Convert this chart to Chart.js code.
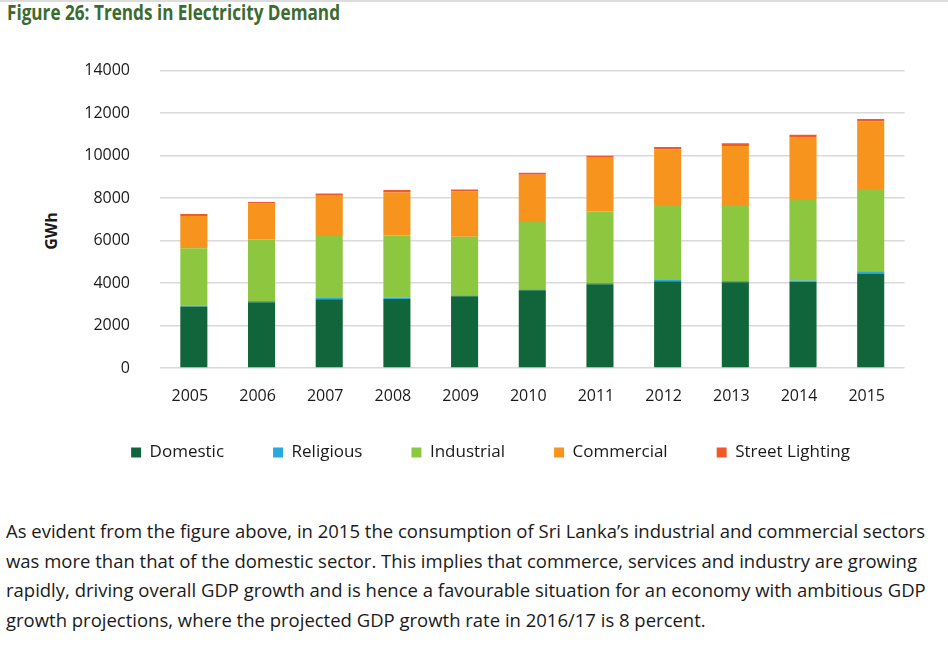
<!DOCTYPE html>
<html>
<head>
<meta charset="utf-8">
<script src="https://cdn.jsdelivr.net/npm/chart.js@4.4.1/dist/chart.umd.min.js"></script>
<style>
  html, body { margin: 0; padding: 0; background: #fff; }
  body { width: 948px; height: 651px; position: relative; overflow: hidden; border-top: 2px solid #dcdcdc; box-sizing: border-box; }
  #title { position: absolute; left: 7px; top: -4px; font-family: 'Open Sans', sans-serif; font-weight: bold; font-size: 21px; color: #3b6b2e; white-space: nowrap; transform-origin: 0 0; display: inline-block; }
  #ytitle { position: absolute; left: 51px; top: 229px; transform: translate(-50%, -50%) rotate(-90deg); font-family: 'Open Sans', sans-serif; font-weight: bold; font-size: 16px; color: #1a1a1a; white-space: nowrap; }
  #wrap { position: absolute; left: 73px; top: 29px; width: 835px; height: 453px; }
  #para { position: absolute; left: 6px; top: 514px; font-family: 'Open Sans', sans-serif; font-size: 18.5px; color: #1a1a1a; transform-origin: 0 0; }
  #para div { white-space: nowrap; height: 29.5px; line-height: 29.5px; }
</style>
</head>
<body>
<div id="title">Figure 26: Trends in Electricity Demand</div>
<div id="ytitle">GWh</div>
<div id="wrap"><canvas id="c"></canvas></div>
<div id="para">
  <div><span id="l1">As evident from the figure above, in 2015 the consumption of Sri Lanka’s industrial and commercial sectors</span></div>
  <div>was more than that of the domestic sector. This implies that commerce, services and industry are growing</div>
  <div>rapidly, driving overall GDP growth and is hence a favourable situation for an economy with ambitious GDP</div>
  <div>growth projections, where the projected GDP growth rate in 2016/17 is 8 percent.</div>
</div>
<script>
const years = ['2005','2006','2007','2008','2009','2010','2011','2012','2013','2014','2015'];
const domestic   = [2890, 3097, 3239, 3253, 3380, 3663, 3946, 4088, 4040, 4055, 4446];
const religious  = [45, 55, 60, 50, 50, 50, 50, 50, 50, 60, 110];
const industrial = [2708, 2897, 2910, 2934, 2746, 3156, 3373, 3533, 3581, 3792, 3869];
const commercial = [1509, 1697, 1900, 2028, 2136, 2230, 2531, 2621, 2781, 2970, 3187];
const streetLighting = [95, 66, 109, 112, 95, 95, 95, 113, 123, 108, 113];
const yTicks = [0, 2000, 4000, 6000, 8000, 10000, 12000, 14000];

// squeeze text horizontally to match the reference widths
(function(){
  const t = document.getElementById('title');
  const tw = t.getBoundingClientRect().width;
  t.style.transform = 'scaleX(' + (333 / tw) + ')';
  const l1 = document.getElementById('l1');
  const w = l1.getBoundingClientRect().width;
  document.getElementById('para').style.transform = 'scaleX(' + (919 / w) + ')';
})();

Chart.defaults.font.family = "'Open Sans', sans-serif";
Chart.defaults.color = '#1a1a1a';

const colors = {
  domestic: '#10663a',
  religious: '#29a9e1',
  industrial: '#8dc63f',
  commercial: '#f7941d',
  street: '#ef5a28'
};

function ds(label, data, color) {
  return { label, data, backgroundColor: color, borderWidth: 0, stack: 's',
           categoryPercentage: 0.8, barPercentage: 0.5 };
}

// move the legend a little closer to the axis labels
const legendShift = {
  id: 'legendShift',
  afterLayout(chart) {
    if (chart.legend) { chart.legend.top -= 13; chart.legend.bottom -= 13; }
  }
};

new Chart(document.getElementById('c'), {
  type: 'bar',
  data: {
    labels: years,
    datasets: [
      ds('Domestic', domestic, colors.domestic),
      ds('Religious', religious, colors.religious),
      ds('Industrial', industrial, colors.industrial),
      ds('Commercial', commercial, colors.commercial),
      ds('Street Lighting', streetLighting, colors.street)
    ]
  },
  plugins: [legendShift],
  options: {
    responsive: true,
    maintainAspectRatio: false,
    animation: false,
    layout: { padding: 0 },
    plugins: {
      legend: {
        position: 'bottom',
        labels: { boxWidth: 10, boxHeight: 10, padding: 49, font: { size: 17 }, color: '#1a1a1a' }
      },
      tooltip: { enabled: false }
    },
    scales: {
      x: {
        stacked: true,
        grid: { display: false, drawTicks: false },
        border: { display: false },
        ticks: { font: { size: 16 }, padding: 19, maxRotation: 0, labelOffset: -4 },
        afterFit: s => { s.height = 40; }
      },
      y: {
        stacked: true,
        min: 0, max: 14000,
        afterBuildTicks: s => { s.ticks = yTicks.map(v => ({ value: v })); },
        grid: { color: '#d9d9d9', lineWidth: 1.6, drawTicks: false },
        border: { display: false },
        ticks: { font: { size: 16 }, padding: 30, callback: v => String(v) },
        afterFit: s => { s.width = 87; }
      }
    }
  }
});
</script>
</body>
</html>
